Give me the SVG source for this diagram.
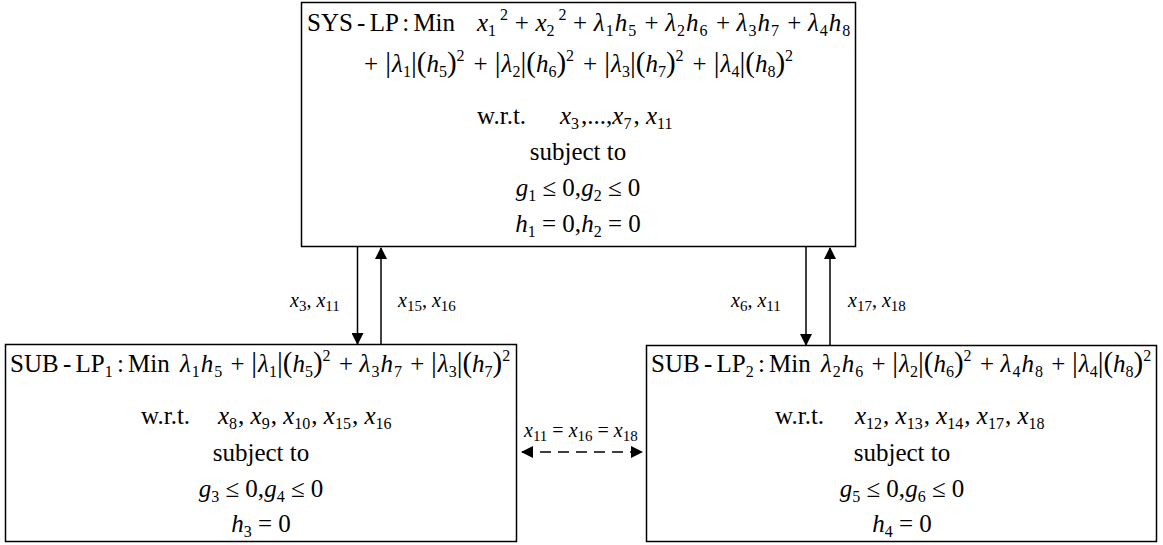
<svg xmlns="http://www.w3.org/2000/svg" width="1163" height="545" viewBox="0 0 1163 545">
<style>
.t{font-family:"Liberation Serif","Times New Roman",serif;font-size:25px;fill:#000}
.i{font-style:italic}
.s{font-size:16px;font-style:normal}
.k{font-size:29px;font-style:normal}
.w{word-spacing:-2px}
.m{text-anchor:middle}
.lab{font-size:20px}
.lab .s{font-size:15px}
.b{fill:#fff;stroke:#000;stroke-width:1.5}
.c{stroke:#000;stroke-width:1.5;fill:none}
.d{stroke-dasharray:11 7}
</style>
<defs>
<marker id="ah" viewBox="0 0 12 12" refX="11" refY="6" markerWidth="12" markerHeight="12" markerUnits="userSpaceOnUse" orient="auto-start-reverse"><path d="M0,0 L12,6 L0,12 z" fill="#000"/></marker>
</defs>

<g id="sys-lp">
<rect class="b" x="301.5" y="2.5" width="554" height="244"/>
<text class="t w" x="307" y="31">SYS - LP : Min</text>
<text class="t" x="477" y="31"><tspan class="i">x</tspan><tspan class="s" dy="5">1</tspan><tspan class="s" dx="4" dy="-16">2</tspan></text>
<text class="t" x="514.7" y="31">+</text>
<text class="t" x="535.4" y="31"><tspan class="i">x</tspan><tspan class="s" dy="5">2</tspan><tspan class="s" dx="4" dy="-16">2</tspan></text>
<text class="t" x="573" y="31">+</text>
<text class="t" x="593.8" y="31"><tspan class="i">λ</tspan><tspan class="s" dx="1" dy="5">1</tspan><tspan class="i" dx="1" dy="-5">h</tspan><tspan class="s" dx="1" dy="5">5</tspan></text>
<text class="t" x="644.5" y="31">+</text>
<text class="t" x="665.2" y="31"><tspan class="i">λ</tspan><tspan class="s" dx="1" dy="5">2</tspan><tspan class="i" dx="1" dy="-5">h</tspan><tspan class="s" dx="1" dy="5">6</tspan></text>
<text class="t" x="715.9" y="31">+</text>
<text class="t" x="736.6" y="31"><tspan class="i">λ</tspan><tspan class="s" dx="1" dy="5">3</tspan><tspan class="i" dx="1" dy="-5">h</tspan><tspan class="s" dx="1" dy="5">7</tspan></text>
<text class="t" x="787.3" y="31">+</text>
<text class="t" x="808" y="31"><tspan class="i">λ</tspan><tspan class="s" dx="1" dy="5">4</tspan><tspan class="i" dx="1" dy="-5">h</tspan><tspan class="s" dx="1" dy="5">8</tspan></text>

<text class="t" x="364" y="72">+</text>
<text class="t" x="385.3" y="72"><tspan class="k">|</tspan><tspan class="i" dx="1">λ</tspan><tspan class="s" dy="5">1</tspan><tspan class="k" dy="-5">|(</tspan><tspan class="i">h</tspan><tspan class="s" dy="5">5</tspan><tspan class="k" dy="-5">)</tspan><tspan class="s" dy="-11">2</tspan></text>
<text class="t" x="473.5" y="72">+</text>
<text class="t" x="494.8" y="72"><tspan class="k">|</tspan><tspan class="i" dx="1">λ</tspan><tspan class="s" dy="5">2</tspan><tspan class="k" dy="-5">|(</tspan><tspan class="i">h</tspan><tspan class="s" dy="5">6</tspan><tspan class="k" dy="-5">)</tspan><tspan class="s" dy="-11">2</tspan></text>
<text class="t" x="583" y="72">+</text>
<text class="t" x="604.3" y="72"><tspan class="k">|</tspan><tspan class="i" dx="1">λ</tspan><tspan class="s" dy="5">3</tspan><tspan class="k" dy="-5">|(</tspan><tspan class="i">h</tspan><tspan class="s" dy="5">7</tspan><tspan class="k" dy="-5">)</tspan><tspan class="s" dy="-11">2</tspan></text>
<text class="t" x="692.5" y="72">+</text>
<text class="t" x="713.8" y="72"><tspan class="k">|</tspan><tspan class="i" dx="1">λ</tspan><tspan class="s" dy="5">4</tspan><tspan class="k" dy="-5">|(</tspan><tspan class="i">h</tspan><tspan class="s" dy="5">8</tspan><tspan class="k" dy="-5">)</tspan><tspan class="s" dy="-11">2</tspan></text>

<text class="t" x="477" y="124">w.r.t.</text>
<text class="t" x="560" y="124"><tspan class="i">x</tspan><tspan class="s" dy="5">3</tspan><tspan dx="2" dy="-5">,...,</tspan><tspan class="i">x</tspan><tspan class="s" dy="5">7</tspan><tspan dx="2" dy="-5">, </tspan><tspan class="i">x</tspan><tspan class="s" dy="5">11</tspan></text>
<text class="t m" x="578" y="160">subject to</text>
<text class="t m" x="578" y="196"><tspan class="i">g</tspan><tspan class="s" dy="5">1</tspan><tspan dy="-5"> ≤ 0,</tspan><tspan class="i">g</tspan><tspan class="s" dy="5">2</tspan><tspan dy="-5"> ≤ 0</tspan></text>
<text class="t m" x="578" y="232"><tspan class="i">h</tspan><tspan class="s" dy="5">1</tspan><tspan dy="-5"> = 0,</tspan><tspan class="i">h</tspan><tspan class="s" dy="5">2</tspan><tspan dy="-5"> = 0</tspan></text>
</g>

<g id="sub-lp1">
<rect class="b" x="5.5" y="344.5" width="511" height="197"/>
<text class="t w" x="10" y="372">SUB - LP<tspan class="s" dy="5">1</tspan><tspan dy="-5"> : Min</tspan></text>
<text class="t" x="180" y="372"><tspan class="i">λ</tspan><tspan class="s" dx="1" dy="5">1</tspan><tspan class="i" dx="1" dy="-5">h</tspan><tspan class="s" dx="1" dy="5">5</tspan></text>
<text class="t" x="230.6" y="372">+</text>
<text class="t" x="251.3" y="372"><tspan class="k">|</tspan><tspan class="i" dx="1">λ</tspan><tspan class="s" dy="5">1</tspan><tspan class="k" dy="-5">|(</tspan><tspan class="i">h</tspan><tspan class="s" dy="5">5</tspan><tspan class="k" dy="-5">)</tspan><tspan class="s" dy="-11">2</tspan></text>
<text class="t" x="338.9" y="372">+</text>
<text class="t" x="359.6" y="372"><tspan class="i">λ</tspan><tspan class="s" dx="1" dy="5">3</tspan><tspan class="i" dx="1" dy="-5">h</tspan><tspan class="s" dx="1" dy="5">7</tspan></text>
<text class="t" x="410.2" y="372">+</text>
<text class="t" x="431" y="372"><tspan class="k">|</tspan><tspan class="i" dx="1">λ</tspan><tspan class="s" dy="5">3</tspan><tspan class="k" dy="-5">|(</tspan><tspan class="i">h</tspan><tspan class="s" dy="5">7</tspan><tspan class="k" dy="-5">)</tspan><tspan class="s" dy="-11">2</tspan></text>
<text class="t" x="141" y="424">w.r.t.</text>
<text class="t" x="218" y="424"><tspan class="i">x</tspan><tspan class="s" dy="5">8</tspan><tspan dx="1" dy="-5">, </tspan><tspan class="i">x</tspan><tspan class="s" dy="5">9</tspan><tspan dx="1" dy="-5">, </tspan><tspan class="i">x</tspan><tspan class="s" dy="5">10</tspan><tspan dx="1" dy="-5">, </tspan><tspan class="i">x</tspan><tspan class="s" dy="5">15</tspan><tspan dx="1" dy="-5">, </tspan><tspan class="i">x</tspan><tspan class="s" dy="5">16</tspan></text>
<text class="t m" x="261" y="461">subject to</text>
<text class="t m" x="261" y="497"><tspan class="i">g</tspan><tspan class="s" dy="5">3</tspan><tspan dy="-5"> ≤ 0,</tspan><tspan class="i">g</tspan><tspan class="s" dy="5">4</tspan><tspan dy="-5"> ≤ 0</tspan></text>
<text class="t m" x="261" y="532"><tspan class="i">h</tspan><tspan class="s" dy="5">3</tspan><tspan dy="-5"> = 0</tspan></text>
</g>

<g id="sub-lp2">
<rect class="b" x="646.5" y="345.5" width="510" height="196"/>
<text class="t w" x="651" y="372">SUB - LP<tspan class="s" dy="5">2</tspan><tspan dy="-5"> : Min</tspan></text>
<text class="t" x="821" y="372"><tspan class="i">λ</tspan><tspan class="s" dx="1" dy="5">2</tspan><tspan class="i" dx="1" dy="-5">h</tspan><tspan class="s" dx="1" dy="5">6</tspan></text>
<text class="t" x="871.6" y="372">+</text>
<text class="t" x="892.3" y="372"><tspan class="k">|</tspan><tspan class="i" dx="1">λ</tspan><tspan class="s" dy="5">2</tspan><tspan class="k" dy="-5">|(</tspan><tspan class="i">h</tspan><tspan class="s" dy="5">6</tspan><tspan class="k" dy="-5">)</tspan><tspan class="s" dy="-11">2</tspan></text>
<text class="t" x="979.9" y="372">+</text>
<text class="t" x="1000.6" y="372"><tspan class="i">λ</tspan><tspan class="s" dx="1" dy="5">4</tspan><tspan class="i" dx="1" dy="-5">h</tspan><tspan class="s" dx="1" dy="5">8</tspan></text>
<text class="t" x="1051.2" y="372">+</text>
<text class="t" x="1072" y="372"><tspan class="k">|</tspan><tspan class="i" dx="1">λ</tspan><tspan class="s" dy="5">4</tspan><tspan class="k" dy="-5">|(</tspan><tspan class="i">h</tspan><tspan class="s" dy="5">8</tspan><tspan class="k" dy="-5">)</tspan><tspan class="s" dy="-11">2</tspan></text>
<text class="t" x="775" y="424">w.r.t.</text>
<text class="t" x="855" y="424"><tspan class="i">x</tspan><tspan class="s" dy="5">12</tspan><tspan dx="1" dy="-5">, </tspan><tspan class="i">x</tspan><tspan class="s" dy="5">13</tspan><tspan dx="1" dy="-5">, </tspan><tspan class="i">x</tspan><tspan class="s" dy="5">14</tspan><tspan dx="1" dy="-5">, </tspan><tspan class="i">x</tspan><tspan class="s" dy="5">17</tspan><tspan dx="1" dy="-5">, </tspan><tspan class="i">x</tspan><tspan class="s" dy="5">18</tspan></text>
<text class="t m" x="902" y="461">subject to</text>
<text class="t m" x="902" y="497"><tspan class="i">g</tspan><tspan class="s" dy="5">5</tspan><tspan dy="-5"> ≤ 0,</tspan><tspan class="i">g</tspan><tspan class="s" dy="5">6</tspan><tspan dy="-5"> ≤ 0</tspan></text>
<text class="t m" x="902" y="532"><tspan class="i">h</tspan><tspan class="s" dy="5">4</tspan><tspan dy="-5"> = 0</tspan></text>
</g>

<g id="connectors">
<line class="c" x1="357.5" y1="247" x2="357.5" y2="344" marker-end="url(#ah)"/>
<line class="c" x1="381" y1="345" x2="381" y2="248" marker-end="url(#ah)"/>
<line class="c" x1="806" y1="247" x2="806" y2="345" marker-end="url(#ah)"/>
<line class="c" x1="830" y1="346" x2="830" y2="248" marker-end="url(#ah)"/>
<line class="c d" x1="522" y1="452" x2="642" y2="452" marker-start="url(#ah)" marker-end="url(#ah)"/>
<text class="t lab" x="290" y="307"><tspan class="i">x</tspan><tspan class="s" dy="4">3</tspan><tspan dy="-4">, </tspan><tspan class="i">x</tspan><tspan class="s" dy="4">11</tspan></text>
<text class="t lab" x="398" y="307"><tspan class="i">x</tspan><tspan class="s" dy="4">15</tspan><tspan dy="-4">, </tspan><tspan class="i">x</tspan><tspan class="s" dy="4">16</tspan></text>
<text class="t lab" x="731" y="307"><tspan class="i">x</tspan><tspan class="s" dy="4">6</tspan><tspan dy="-4">, </tspan><tspan class="i">x</tspan><tspan class="s" dy="4">11</tspan></text>
<text class="t lab" x="848" y="307"><tspan class="i">x</tspan><tspan class="s" dy="4">17</tspan><tspan dy="-4">, </tspan><tspan class="i">x</tspan><tspan class="s" dy="4">18</tspan></text>
<text class="t lab" x="524" y="437"><tspan class="i">x</tspan><tspan class="s" dy="4">11</tspan><tspan dy="-4"> = </tspan><tspan class="i">x</tspan><tspan class="s" dy="4">16</tspan><tspan dy="-4"> = </tspan><tspan class="i">x</tspan><tspan class="s" dy="4">18</tspan></text>
</g>
</svg>
